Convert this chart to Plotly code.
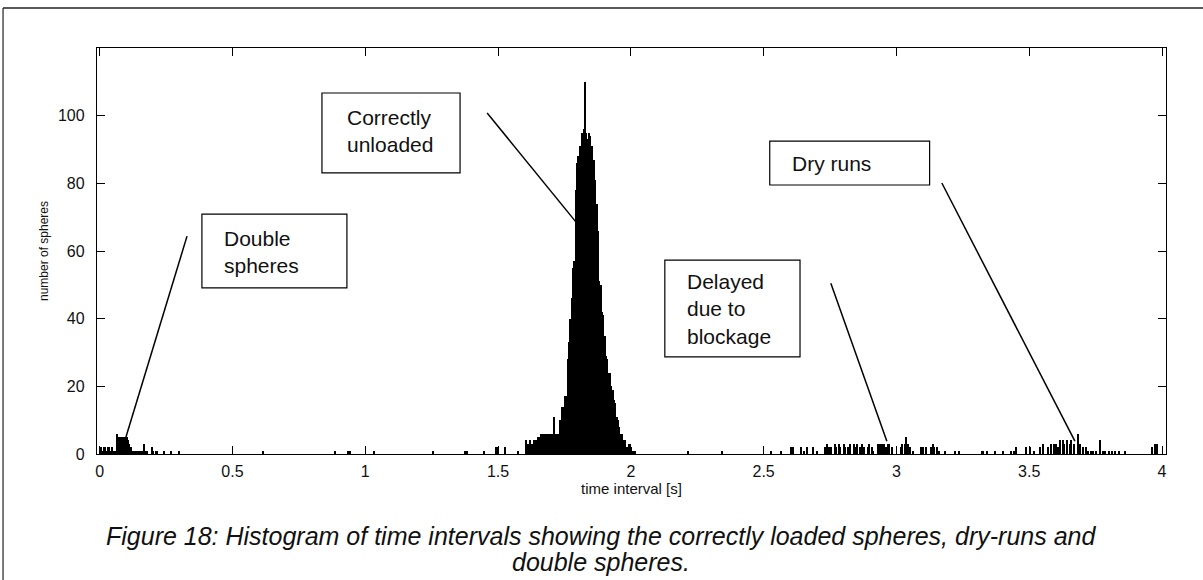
import plotly.graph_objects as go

# ---------------- data (bin left edges [s] and counts) ----------------
BIN_W = 0.005

double_t = [0.005, 0.010, 0.015, 0.020, 0.025, 0.030, 0.035, 0.040, 0.045, 0.050, 0.055, 0.060,
            0.065, 0.070, 0.075, 0.080, 0.085, 0.090, 0.095, 0.100, 0.105,
            0.110, 0.115, 0.120, 0.125, 0.130, 0.135, 0.140, 0.145, 0.150, 0.155, 0.160,
            0.165, 0.170, 0.175, 0.195, 0.200, 0.210, 0.215, 0.240, 0.265, 0.295]
double_c = [2, 1, 2, 2, 1, 2, 2, 1, 2, 1, 1, 1,
            6, 5, 5, 5, 5, 5, 5, 5, 4,
            3, 2, 1, 1, 1, 1, 1, 1, 1, 1, 1,
            3, 1, 1, 2, 1, 1, 1, 1, 1, 1]

stray_t = [0.615, 0.885, 0.935, 0.940, 1.030, 1.255, 1.375, 1.380, 1.445, 1.490, 1.495, 1.525, 1.575]
stray_c = [1, 1, 1, 1, 1, 1, 1, 1, 1, 2, 2, 2, 1]

peak_t0 = 1.605
peak_c = [4, 3, 3, 4, 3, 3, 4, 4, 4, 5, 5, 6, 6, 6, 6, 6, 6, 6, 6, 6, 6,   # 1.605 - 1.705
          11, 6, 6, 6, 10, 10, 14, 14, 17, 17,                                # 1.710 - 1.755
          28, 33, 40, 46, 55, 57, 78, 86, 88, 91, 91, 95, 96, 110,            # 1.760 - 1.825
          95, 93, 95, 94, 91, 82, 87, 81, 74, 66,                             # 1.830 - 1.875
          51, 50, 42, 41, 35, 29, 28, 24, 24, 20, 19, 16, 15, 11, 10, 8,      # 1.880 - 1.955
          6, 6, 4, 4, 2, 2, 3, 3, 2, 1, 1, 1]                                 # 1.960 - 2.015

late_t = [2.215, 2.340, 2.525, 2.565, 2.600, 2.605, 2.610, 2.640, 2.650, 2.660, 2.685, 2.700,
          2.730, 2.735, 2.745, 2.750, 2.765, 2.770, 2.780, 2.785, 2.800, 2.805, 2.815, 2.825,
          2.840, 2.845, 2.850, 2.860, 2.870, 2.875, 2.890, 2.895, 2.905, 2.910, 2.930, 2.935,
          2.940, 2.945, 2.950, 2.960, 2.965, 2.970, 2.980, 3.015, 3.020, 3.030, 3.035, 3.040,
          3.050, 3.060, 3.090, 3.095, 3.100, 3.110, 3.130, 3.135, 3.140, 3.150, 3.160, 3.180,
          3.220, 3.235, 3.320, 3.325, 3.340, 3.370, 3.400, 3.430, 3.440, 3.450, 3.485, 3.500,
          3.515, 3.540, 3.550, 3.570, 3.580, 3.590, 3.600, 3.605, 3.615, 3.625, 3.630, 3.640,
          3.650, 3.655, 3.665, 3.680, 3.690, 3.700, 3.710, 3.720, 3.730, 3.740, 3.750, 3.765,
          3.775, 3.785, 3.800, 3.810, 3.820, 3.835, 3.860, 3.960, 3.970, 3.980]
late_c = [1, 1, 1, 1, 2, 1, 2, 2, 1, 2, 2, 1,
          2, 3, 2, 2, 3, 2, 3, 2, 3, 2, 2, 3,
          3, 2, 3, 2, 3, 2, 2, 3, 2, 1, 3, 3,
          2, 3, 3, 2, 3, 3, 2, 2, 3, 3, 5, 3,
          2, 1, 2, 1, 2, 2, 2, 3, 2, 2, 1, 1,
          1, 1, 1, 1, 1, 1, 1, 1, 1, 2, 2, 2,
          1, 2, 3, 2, 3, 3, 3, 2, 4, 4, 3, 4,
          3, 4, 3, 6, 3, 2, 2, 1, 1, 1, 1, 4,
          1, 1, 1, 1, 1, 1, 1, 2, 3, 3]

x_ticks = [0, 0.5, 1, 1.5, 2, 2.5, 3, 3.5, 4]
x_tick_labels = ["0", "0.5", "1", "1.5", "2", "2.5", "3", "3.5", "4"]
y_ticks = [0, 20, 40, 60, 80, 100]
y_tick_labels = ["0", "20", "40", "60", "80", "100"]

caption_lines = ["Figure 18: Histogram of time intervals showing the correctly loaded spheres, dry-runs and",
                 "double spheres."]

# assemble bins
peak_t = [round(peak_t0 + i * BIN_W, 3) for i in range(len(peak_c))]
all_t = double_t + stray_t + peak_t + late_t
all_c = double_c + stray_c + peak_c + late_c
centers = [t + BIN_W / 2 for t in all_t]

FONT = "Liberation Sans, Arial, sans-serif"

fig = go.Figure()
fig.add_trace(go.Bar(x=centers, y=all_c, width=BIN_W,
                     marker=dict(color="black", line=dict(width=0)),
                     hoverinfo="x+y", showlegend=False))

axis_common = dict(showline=True, linecolor="black", linewidth=1.3, mirror="ticks",
                   ticks="inside", ticklen=8, tickwidth=1, tickcolor="black",
                   showgrid=False, zeroline=False,
                   tickfont=dict(family=FONT, size=16, color="#111"))

fig.update_layout(
    width=1203, height=580,
    margin=dict(l=97, r=37, t=48, b=126),
    paper_bgcolor="white", plot_bgcolor="white",
    bargap=0,
    xaxis=dict(range=[-0.01, 4.015], tickvals=x_ticks, ticktext=x_tick_labels,
               ticklabelstandoff=3,
               title=dict(text="time interval [s]", font=dict(family=FONT, size=15, color="#111"),
                          standoff=4),
               **axis_common),
    yaxis=dict(range=[0, 120], tickvals=y_ticks, ticktext=y_tick_labels,
               ticklabelstandoff=8,
               title=dict(text="number of spheres", font=dict(family=FONT, size=12, color="#111"),
                          standoff=6),
               **axis_common),
)

# ---- annotation boxes (data coords) ----
boxes = [
    dict(x0=0.385, x1=0.931, y0=49.1, y1=70.9, text="Double<br>spheres", tx=0.46, ty=59.7),
    dict(x0=0.837, x1=1.357, y0=83.1, y1=106.7, text="Correctly<br>unloaded", tx=0.925, ty=95.4),
    dict(x0=2.128, x1=2.637, y0=28.7, y1=57.3, text="Delayed<br>due to<br>blockage", tx=2.205, ty=42.8),
    dict(x0=2.523, x1=3.125, y0=79.5, y1=92.5, text="Dry runs", tx=2.60, ty=86.0),
]
for b in boxes:
    fig.add_shape(type="rect", xref="x", yref="y", x0=b["x0"], x1=b["x1"], y0=b["y0"], y1=b["y1"],
                  line=dict(color="black", width=1.2), fillcolor="white", layer="above")
    fig.add_annotation(x=b["tx"], y=b["ty"], xref="x", yref="y", text=b["text"], showarrow=False,
                       xanchor="left", yanchor="middle", align="left",
                       font=dict(family=FONT, size=21, color="#111"))

leaders = [
    (0.329, 64.4, 0.099, 5.0),
    (1.459, 100.8, 1.793, 68.6),
    (2.753, 50.5, 2.964, 3.8),
    (3.171, 80.1, 3.672, 3.8),
]
for x0, y0, x1, y1 in leaders:
    fig.add_shape(type="line", xref="x", yref="y", x0=x0, y0=y0, x1=x1, y1=y1,
                  line=dict(color="black", width=1.5))

# ---- page frame and caption (paper coords) ----
fig.add_shape(type="line", xref="paper", yref="paper", x0=-0.0879, x1=-0.0879, y0=-0.32, y1=1.0985,
              line=dict(color="#222", width=1.2))
fig.add_shape(type="line", xref="paper", yref="paper", x0=-0.0879, x1=1.04, y0=1.0985, y1=1.0985,
              line=dict(color="#222", width=1.5))

for line_text, ypos in zip(caption_lines, [-0.202, -0.266]):
    fig.add_annotation(xref="paper", yref="paper", x=0.4715, y=ypos, showarrow=False,
                       xanchor="center", yanchor="middle", align="center",
                       text="<i>" + line_text + "</i>",
                       font=dict(family=FONT, size=25, color="#111"))

fig.write_html("out.html")
